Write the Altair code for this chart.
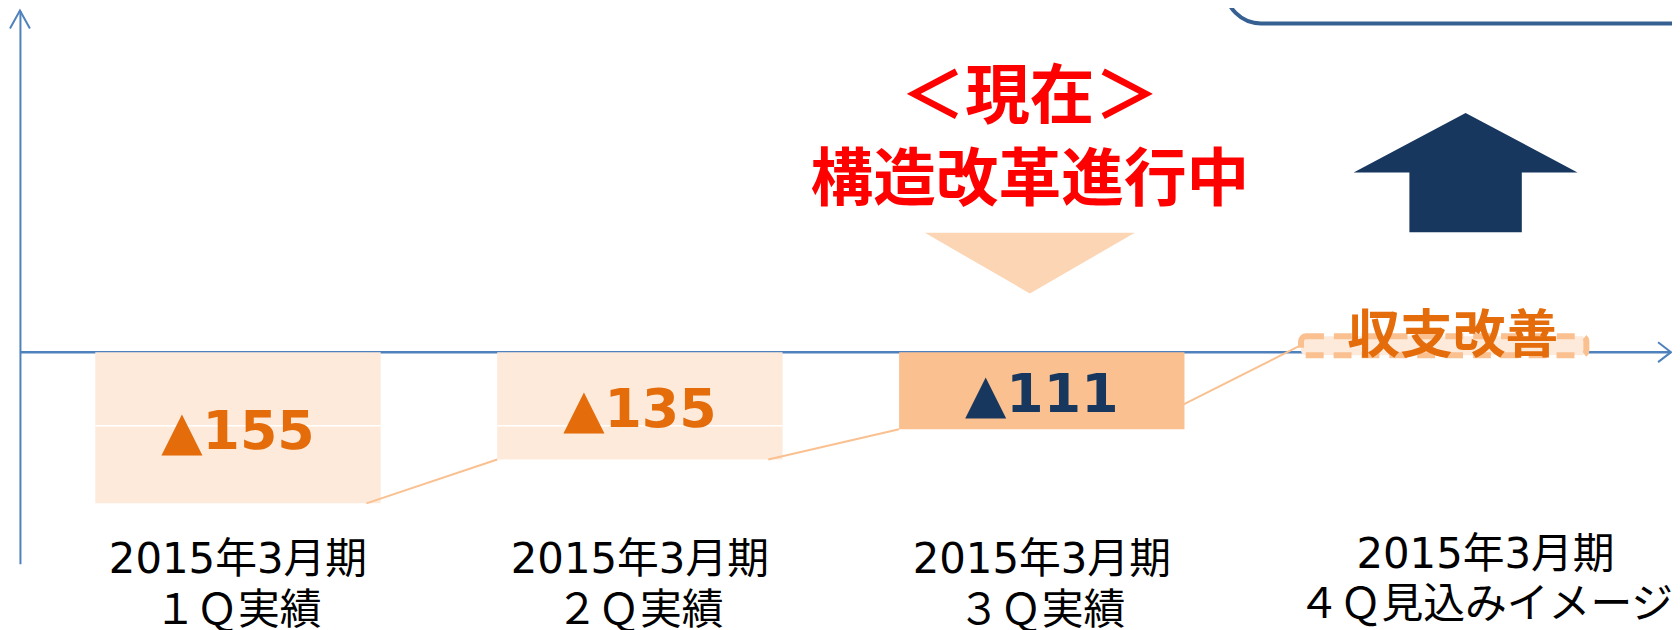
import altair as alt
import pandas as pd

# ---------------- data ----------------
quarters = ["1Q", "2Q", "3Q", "4Q"]
period_labels = [
    "2015年3月期\n１Ｑ実績",
    "2015年3月期\n２Ｑ実績",
    "2015年3月期\n３Ｑ実績",
    "2015年3月期\n４Ｑ見込みイメージ",
]
result_quarters = ["1Q", "2Q", "3Q"]
loss_values = [155, 135, 111]          # ▲ = loss
bar_depth = [100, 71, 51]              # schematic bar depth (relative units)
phase = ["実績", "実績", "現在"]
connector_from = ["1Q", "2Q", "3Q"]
connector_to = ["2Q", "3Q", "4Q"]
connector_start = [-100, -71, -39]
connector_end = [-71, -51, 4.6]
forecast_quarter = ["4Q"]
forecast_top = [10.5]
forecast_bottom = [-2]
forecast_text = ["収支改善"]
current_title = ["＜現在＞"]
current_subtitle = ["構造改革進行中"]
gridline_level = -48.7

# ---------------- layout ----------------
W, H = 1659, 556
xs = alt.Scale(type="band", domain=quarters, paddingInner=0.29,
               paddingOuter=0.199, align=0.471)
ys = alt.Scale(domain=[-140, 226], nice=False, zero=False)


def X(field, **kw):
    return alt.X(field, type="nominal", scale=xs, axis=None, **kw)


def Y(field):
    return alt.Y(field, type="quantitative", scale=ys, title=None)


bars = pd.DataFrame({"quarter": result_quarters, "value": loss_values,
                     "depth": bar_depth, "phase": phase})
bars["bottom"] = -bars["depth"]
bars["mid"] = -bars["depth"] / 2
bars["label"] = "▲" + bars["value"].astype(str)
bars["grid"] = gridline_level

is_current = "datum.phase === '現在'"

one = pd.DataFrame({"zero": [0]})

frame = alt.Chart(one).mark_rect(
    fill="white", fillOpacity=0, stroke="#376092", strokeWidth=4, cornerRadius=36
).encode(x=alt.value(1211), x2=alt.value(1720), y=alt.value(-100), y2=alt.value(13))

zero_line = alt.Chart(one).mark_rule(color="#4F81BD", strokeWidth=2.5).encode(
    x=alt.value(0), x2=alt.value(W), y=Y("zero"))

bar_layer = alt.Chart(bars).mark_bar(strokeWidth=0).encode(
    x=X("quarter"), y=Y("bottom"), y2=alt.datum(0),
    color=alt.condition(is_current, alt.value("#FAC090"), alt.value("#FDEADA")))

grid_rule = alt.Chart(bars).transform_filter("datum.phase !== '現在'").mark_rule(
    color="white", strokeWidth=1.5).encode(
    x=X("quarter", bandPosition=0), x2=alt.X2("quarter", bandPosition=1), y=Y("grid"))

conn = pd.DataFrame({"from": connector_from, "to": connector_to,
                     "ys": connector_start, "ye": connector_end})
connectors = alt.Chart(conn).mark_rule(color="#FAC090", strokeWidth=2).encode(
    x=X("from", bandPosition=0.95), x2=alt.X2("to", bandPosition=0),
    y=Y("ys"), y2=alt.Y2("ye"))

fbox = pd.DataFrame({"quarter": forecast_quarter, "top": forecast_top,
                     "bottom": forecast_bottom, "text": forecast_text})
forecast_bar = alt.Chart(fbox).mark_bar(
    fill="#FDEADA", stroke="#FAC090", strokeWidth=6, strokeDash=[18, 10], cornerRadius=5
).encode(x=X("quarter"), y=Y("top"), y2=alt.Y2("bottom"))

right_arrow = alt.Chart(one).mark_point(
    shape="M-1,-0.77L0,0L-1,0.77", size=676, filled=False, color="#4F81BD",
    strokeWidth=2, opacity=1).encode(x=alt.value(W), y=Y("zero"))

top_arrow = alt.Chart(one).mark_point(
    shape="M-0.556,1L0,0L0.556,1", size=1296, filled=False, color="#4F81BD",
    strokeWidth=2, opacity=1).encode(x=alt.value(0), y=alt.value(0))

value_labels = alt.Chart(bars).mark_text(
    font="DejaVu Sans", fontSize=54, fontWeight="bold", dy=5).encode(
    x=X("quarter"), y=Y("mid"), text="label:N",
    color=alt.condition(is_current, alt.value("#17375E"), alt.value("#E46C0A")))

cats = pd.DataFrame({"quarter": quarters, "label": period_labels, "y": [-140] * 4})
cat_labels = alt.Chart(cats).transform_filter("datum.quarter !== '4Q'").mark_text(
    font="DejaVu Sans, Noto Sans CJK JP", fontSize=42, lineBreak="\n", lineHeight=51,
    baseline="middle", dy=-4, color="black").encode(x=X("quarter"), y=Y("y"), text="label:N")
cat_label4 = alt.Chart(cats).transform_filter("datum.quarter === '4Q'").mark_text(
    font="DejaVu Sans, Noto Sans CJK JP", fontSize=42, lineBreak="\n", lineHeight=50,
    baseline="middle", dx=42, dy=-9, color="black").encode(x=X("quarter"), y=Y("y"), text="label:N")

t1 = alt.Chart(pd.DataFrame({"quarter": ["3Q"], "text": current_title, "y": [168]})).mark_text(
    font="Noto Sans CJK JP", fontSize=65, fontWeight="bold", color="#FF0000", dx=-12
).encode(x=X("quarter"), y=Y("y"), text="text:N")
t2 = alt.Chart(pd.DataFrame({"quarter": ["3Q"], "text": current_subtitle, "y": [113.2]})).mark_text(
    font="Noto Sans CJK JP", fontSize=63, fontWeight="bold", color="#FF0000", dx=-12
).encode(x=X("quarter"), y=Y("y"), text="text:N")

down_tri = alt.Chart(pd.DataFrame({"quarter": ["3Q"], "y": [58.9]})).mark_point(
    shape="M-1,-0.289L1,-0.289L0,0.289Z", size=211 ** 2, filled=True, color="#FCD5B5",
    opacity=1, strokeWidth=0, xOffset=-12).encode(x=X("quarter"), y=Y("y"))

up_arrow = alt.Chart(pd.DataFrame({"quarter": ["4Q"], "y": [118.8]})).mark_point(
    shape="M0,-0.533L1,0L0.502,0L0.502,0.533L-0.502,0.533L-0.502,0L-1,0Z",
    size=225 ** 2, filled=True, color="#17375E", opacity=1, strokeWidth=0, xOffset=22
).encode(x=X("quarter"), y=Y("y"))

fb_text = alt.Chart(pd.DataFrame({"quarter": forecast_quarter, "text": forecast_text, "y": [9.7]})).mark_text(
    font="Noto Sans CJK JP", fontSize=53, fontWeight="bold", color="#E46C0A", dx=9
).encode(x=X("quarter"), y=Y("y"), text="text:N")

chart = alt.layer(
    frame, zero_line, bar_layer, grid_rule, connectors, forecast_bar,
    right_arrow, top_arrow, value_labels, cat_labels, cat_label4, t1, t2,
    down_tri, up_arrow, fb_text
).properties(
    width=W, height=H,
    padding={"left": 12, "top": 1, "right": 1, "bottom": 65},
    autosize=alt.AutoSizeParams(type="none"),
).configure_view(stroke=None).configure_axisY(
    domain=True, domainColor="#4F81BD", domainWidth=2, ticks=False, labels=False,
    grid=False, zindex=1
)

chart.save("out.html", embed_options={"renderer": "svg", "actions": False})
